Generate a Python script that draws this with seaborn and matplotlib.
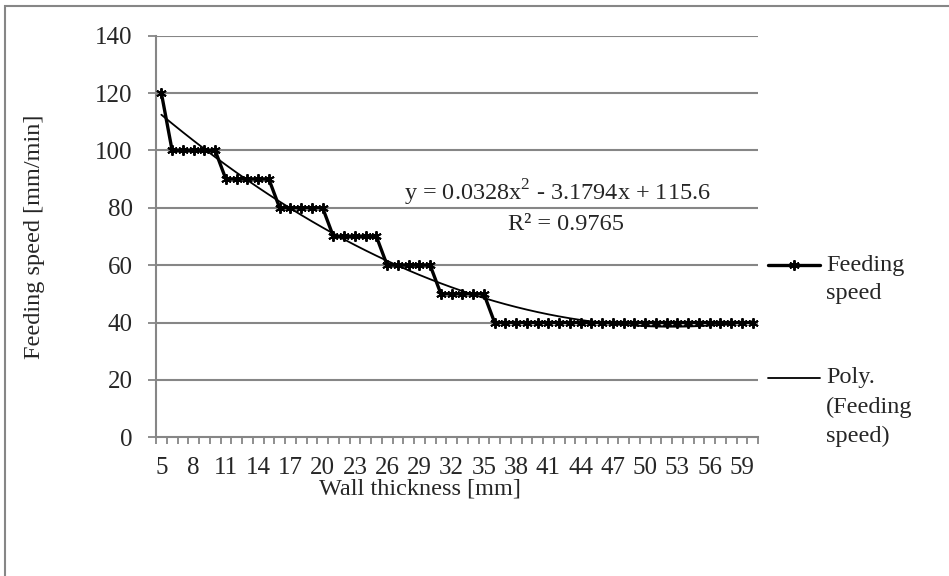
import numpy as np
import pandas as pd
import matplotlib
matplotlib.use("Agg")
import matplotlib.pyplot as plt
from matplotlib.lines import Line2D
from matplotlib.patches import Rectangle
import seaborn as sns

# ---- data ----
wall_thickness = list(range(5, 61))
feeding_speed = ([120] + [100] * 5 + [90] * 5 + [80] * 5 + [70] * 5 +
                 [60] * 5 + [50] * 5 + [40] * 25)
poly_coef = [0.0328, -3.1794, 115.6]          # Excel trendline (x = 1..n)
eq_text = "y = 0.0328x$^2$ - 3.1794x + 115.6"
r2_text = "R² = 0.9765"
x_tick_labels = list(range(5, 61, 3))
y_ticks = [0, 20, 40, 60, 80, 100, 120, 140]

df = pd.DataFrame({"wall": wall_thickness, "speed": feeding_speed})
idx = np.arange(1, len(df) + 1)
df["trend"] = np.polyval(poly_coef, idx)

sns.set_theme(style="white")
plt.rcParams["font.family"] = ["Liberation Serif", "DejaVu Serif"]
plt.rcParams["mathtext.fontset"] = "custom"
plt.rcParams["mathtext.rm"] = "Liberation Serif"
FS = 17.5
TFS = 18
W, H = 949, 576
fig = plt.figure(figsize=(W / 100, H / 100), dpi=100)
L, R, T, B = 156, 758, 35.7, 437.3
ax = fig.add_axes([L / W, 1 - B / H, (R - L) / W, (B - T) / H])

grid_c = "#868686"
for yv in y_ticks[1:]:
    ax.axhline(yv, color=grid_c, lw=1.5, zorder=0)

sns.lineplot(data=df, x="wall", y="trend", ax=ax, color="black", lw=1.3,
             zorder=2)
sns.lineplot(data=df, x="wall", y="speed", ax=ax, color="black", lw=2.4,
             marker=(6, 2, 0), markersize=7.5, markeredgewidth=1.4,
             markeredgecolor="black", zorder=3)

ax.set_xlim(4.5, 60.5)
ax.set_ylim(0, 140)
ax.set_yticks(y_ticks)
ax.set_yticklabels([str(v) for v in y_ticks], fontsize=TFS)
ax.set_xticks(x_tick_labels)
ax.set_xticklabels([str(v) for v in x_tick_labels], fontsize=TFS)
ax.set_xticks(np.arange(4.5, 61.0, 1.0), minor=True)
ax.tick_params(axis="x", which="major", length=0, pad=14)
ax.tick_params(axis="x", which="minor", length=5, width=1.3, color=grid_c,
               direction="out", bottom=True)
ax.tick_params(axis="y", which="major", length=5.8, width=1.3, color=grid_c,
               direction="out", left=True, pad=11)
ax.set_xlabel("")
ax.set_ylabel("")
for s in ["top", "right"]:
    ax.spines[s].set_visible(False)
for s in ["left", "bottom"]:
    ax.spines[s].set_color(grid_c)
    ax.spines[s].set_linewidth(1.5)

ax.text(557 / W, 1 - 193 / H, eq_text, transform=fig.transFigure,
        ha="center", va="center", fontsize=FS)
ax.text(566 / W, 1 - 225 / H, r2_text, transform=fig.transFigure,
        ha="center", va="center", fontsize=FS)

fig.text(420 / W, 1 - 489 / H, "Wall thickness [mm]", ha="center",
         va="center", fontsize=FS)
fig.text(35 / W, 1 - 236.5 / H, "Feeding speed [mm/min]", ha="center",
         va="center", rotation=90, fontsize=FS)

# legend (manual, Excel-style)
def fx(px):
    return px / W

def fy(py):
    return 1 - py / H

fig.add_artist(Line2D([fx(768), fx(820)], [fy(265), fy(265)], color="black",
                      lw=2.4))
fig.add_artist(Line2D([fx(794)], [fy(265)], color="black", marker=(6, 2, 0),
                      markersize=7.5, markeredgewidth=1.4, lw=0))
fig.add_artist(Line2D([fx(768), fx(820)], [fy(378), fy(378)], color="black",
                      lw=1.3))
for txt, py in [("Feeding", 265), ("speed", 294), ("Poly.", 378),
                ("(Feeding", 407), ("speed)", 436)]:
    fig.text(fx(826), fy(py), txt, ha="left", va="center", fontsize=FS)

fig.add_artist(Rectangle((fx(5), fy(H + 20)), 2, fy(6) - fy(H + 20),
                         transform=fig.transFigure, fill=False,
                         edgecolor=grid_c, lw=1.5))

fig.savefig("out.png", dpi=100)
